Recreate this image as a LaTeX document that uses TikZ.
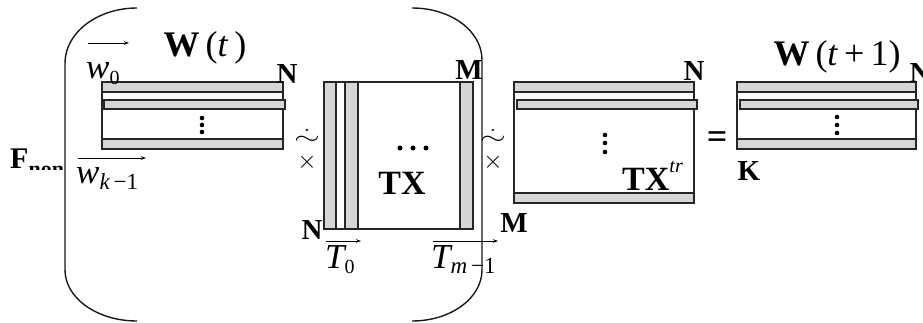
\documentclass[tikz,border=0pt]{standalone}
\usepackage{graphicx}
\usepackage{fontspec}
\setmainfont{Liberation Serif}
\usetikzlibrary{arrows.meta}
\newcommand\mysub[2][18]{\raisebox{-0.35ex}{\fontsize{#1}{#1}\selectfont #2}}
\begin{document}
\begin{tikzpicture}[x=1pt,y=-1pt,
  frame/.style={draw=black!85, line width=1.3pt},
  cell/.style={draw=black!85, line width=1.3pt, fill=black!16},
  paren/.style={draw=black!90, line width=1.4pt},
  vec/.style={-{Stealth[length=5pt,width=3.5pt]}, line width=0.8pt},
  dimlbl/.style={inner sep=0pt, font=\fontsize{29}{29}\selectfont\bfseries},
  biglbl/.style={inner sep=0pt, font=\fontsize{36}{36}\selectfont},
  veclbl/.style={inner sep=0pt, anchor=base west, font=\fontsize{35}{35}\selectfont\itshape},
  tildesym/.style={inner sep=0pt, font=\fontsize{22}{22}\selectfont, text height=9pt, text depth=0pt},
  timessym/.style={inner sep=0pt, font=\fontsize{32}{32}\selectfont, text height=8pt, text depth=0pt},
  dotmark/.style={fill=black, draw=none}]
\useasboundingbox (0,0) rectangle (923,323);

% brackets
\draw[paren] (137,8) .. controls (97,8) and (65,33) .. (65,63) -- (65,270)
  .. controls (65,298) and (97,321) .. (137,321);
\draw[paren] (412,8) .. controls (451,8) and (482,31) .. (482,60) -- (482,270)
  .. controls (482,298) and (451,321) .. (412,321);

% W(t) matrix
\draw[frame] (102,82) rectangle (283,149);
\draw[cell] (102,82) rectangle (283,92);
\draw[cell] (104,100) rectangle (285,109);
\draw[cell] (102,139) rectangle (283,149);
\foreach \y in {118,125,132} \fill[dotmark] (202,\y) circle (2.3);

% TX matrix
\draw[frame] (324,82) rectangle (473,229);
\draw[cell] (324,82) rectangle (336,229);
\draw[cell] (345,82) rectangle (358,229);
\draw[cell] (460,82) rectangle (473,229);
\foreach \x in {400,413,426} \fill[dotmark] (\x,148) circle (2.5);

% TX^tr matrix
\draw[frame] (514,82) rectangle (694,203);
\draw[cell] (514,82) rectangle (694,92);
\draw[cell] (517,100) rectangle (697,109);
\draw[cell] (514,193) rectangle (694,203);
\foreach \y in {135,143,152} \fill[dotmark] (605,\y) circle (2.3);

% W(t+1) matrix
\draw[frame] (737,82) rectangle (916,149);
\draw[cell] (737,82) rectangle (916,92);
\draw[cell] (740,100) rectangle (918,109);
\draw[cell] (737,139) rectangle (916,149);
\foreach \y in {117,125,133} \fill[dotmark] (837,\y) circle (2.3);

% labels
\node[biglbl] (wt) at (205,48) {\textbf{W}\,(\textit{t}\,)};
\node[dimlbl] (n1) at (287,74) {N};
\coordinate (a0s) at (88,43); \coordinate (a0e) at (129,43);
\draw[vec] (a0s) -- (a0e);
\node[veclbl] (w0) at (86,79) {w\mysub[20]{\upshape 0}};
\coordinate (a1s) at (78,158); \coordinate (a1e) at (146,158);
\draw[vec] (a1s) -- (a1e);
\node[veclbl] (wk) at (76,184) {w\mysub[23]{k\,\upshape −1}};
\begin{scope}
  \clip (0,140) rectangle (66,170);
  \node[inner sep=0pt, anchor=base west, font=\fontsize{30}{30}\selectfont\bfseries] (fnon) at (10,169) {F\raisebox{-8pt}{\fontsize{22}{22}\selectfont non}};
\end{scope}

\node[tildesym] (tl1) at (307,140) {\scalebox{1.6}[1.1]{$\dot{\sim}$}};
\node[timessym] (x1) at (307,165) {$\times$};
\node[tildesym] (tl2) at (493,140) {\scalebox{1.6}[1.1]{$\dot{\sim}$}};
\node[timessym] (x2) at (493,165) {$\times$};

\node[dimlbl] (m1) at (469,70) {M};
\node[dimlbl] (n2) at (312,230) {N};
\node[inner sep=0pt, font=\fontsize{34}{34}\selectfont\bfseries] (tx) at (402,183) {TX};
\coordinate (b0s) at (326,241); \coordinate (b0e) at (361,241);
\draw[vec] (b0s) -- (b0e);
\node[veclbl] (t0) at (325,268) {T\mysub[20]{\upshape 0}};
\coordinate (b1s) at (433,241); \coordinate (b1e) at (498,241);
\draw[vec] (b1s) -- (b1e);
\node[veclbl] (tm) at (431,268) {T\mysub[23]{m\,\upshape −1}};
\node[dimlbl] (m2) at (514,223) {M};

\node[dimlbl] (n3) at (694,71) {N};
\node[inner sep=0pt, anchor=base west, font=\fontsize{34}{34}\selectfont\bfseries] (txtr) at (622,190) {TX\raisebox{1.1ex}{\fontsize{20}{20}\selectfont\mdseries\itshape tr}};

\node[inner sep=0pt, font=\fontsize{36}{36}\selectfont\bfseries] (eq) at (717,140) {=};
\node[biglbl] (wt1) at (837,57) {\textbf{W}\,(\textit{t}\,+\,1)};
\node[dimlbl] (n4) at (920,73) {N};
\node[dimlbl] (k) at (749,171) {K};
\end{tikzpicture}
\end{document}
